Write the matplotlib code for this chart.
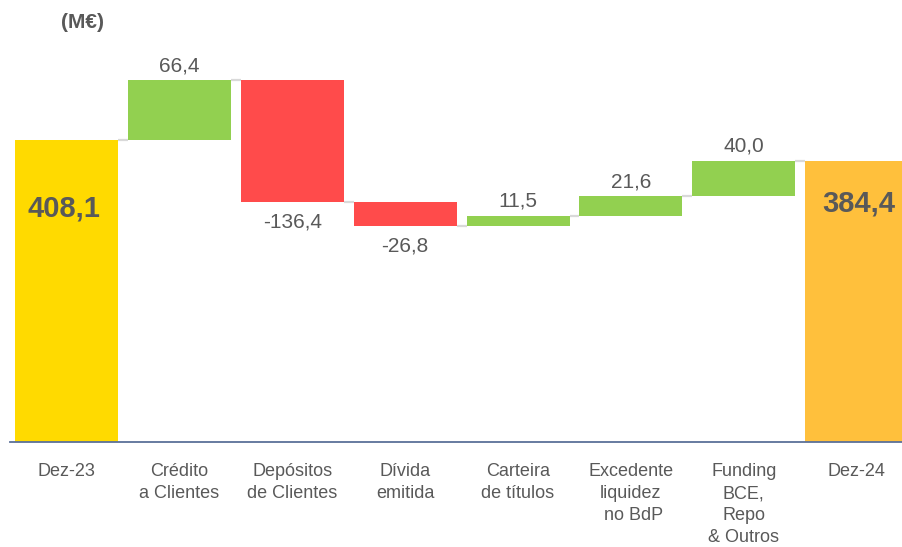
import matplotlib
matplotlib.use('Agg')
import matplotlib.pyplot as plt
import numpy as np

plt.rcParams['font.family'] = ['Liberation Sans', 'DejaVu Sans']

# data
categories = ['Dez-23', 'Crédito\na Clientes', 'Depósitos\nde Clientes', 'Dívida\nemitida',
              'Carteira\nde títulos', 'Excedente\nliquidez\n no BdP', 'Funding\nBCE,\nRepo\n& Outros',
              'Dez-24']
start_total = 408.1
changes = [66.4, -136.4, -26.8, 11.5, 21.6, 40.0]
end_total = 384.4
value_labels = ['408,1', '66,4', '-136,4', '-26,8', '11,5', '21,6', '40,0', '384,4']

# colours
c_start = '#FFDA00'
c_end = '#FFC03C'
c_up = '#92D050'
c_down = '#FF4B4B'
c_text = '#595959'
c_conn = '#D9D9D9'

W, H = 903, 547
fig = plt.figure(figsize=(W / 100, H / 100), dpi=100)
base_px = 441.5
ax = fig.add_axes([10 / W, (H - base_px) / H, (W - 10) / W, base_px / H])

ymin = 70
px_per_unit = 0.893
ax.set_ylim(ymin, ymin + base_px / px_per_unit)
ax.set_xlim(-0.5, 7.41)

bw = 0.912
x = np.arange(len(categories))

# running levels
levels = [start_total]
for c in changes:
    levels.append(levels[-1] + c)

bottoms = [ymin]
heights = [start_total - ymin]
colors = [c_start]
for i, c in enumerate(changes):
    lo = min(levels[i], levels[i + 1])
    bottoms.append(lo)
    heights.append(abs(c))
    colors.append(c_up if c > 0 else c_down)
bottoms.append(ymin)
heights.append(end_total - ymin)
colors.append(c_end)

ax.bar(x, heights, bottom=bottoms, width=bw, color=colors, zorder=2)

# connectors between bars
conn_levels = levels + [end_total]
for i in range(len(categories) - 1):
    ax.plot([x[i] + bw / 2, x[i + 1] - bw / 2], [conn_levels[i], conn_levels[i]],
            color=c_conn, lw=1.6, zorder=1, solid_capstyle='butt')

# value labels for changes
for i, c in enumerate(changes):
    xi = x[i + 1]
    if c > 0:
        ax.annotate(value_labels[i + 1], (xi, levels[i + 1]), xytext=(0, 9),
                    textcoords='offset pixels', ha='center', va='baseline',
                    fontsize=15, color=c_text)
    else:
        ax.annotate(value_labels[i + 1], (xi, levels[i + 1]), xytext=(0, -10),
                    textcoords='offset pixels', ha='center', va='top',
                    fontsize=15, color=c_text)

# totals
ax.annotate(value_labels[0], (x[0], start_total), xytext=(-3, -77),
            textcoords='offset pixels', ha='center', va='baseline',
            fontsize=21, fontweight='bold', color=c_text)
ax.annotate(value_labels[-1], (x[-1], end_total), xytext=(2, -51),
            textcoords='offset pixels', ha='center', va='baseline',
            fontsize=21, fontweight='bold', color=c_text)

# category labels
for xi, lab in zip(x, categories):
    ax.annotate(lab, (xi, 0), xycoords=('data', 'axes fraction'), xytext=(0, -22),
                textcoords='offset pixels', ha='center', va='top',
                fontsize=13, color=c_text, linespacing=1.37)

for s in ['top', 'right', 'left']:
    ax.spines[s].set_visible(False)
ax.spines['bottom'].set_color('#5B7199')
ax.spines['bottom'].set_linewidth(1.3)
ax.spines['bottom'].set_zorder(3)
ax.set_xticks([])
ax.set_yticks([])
ax.patch.set_visible(False)

fig.text(83 / W, 1 - 23 / H, '(M€)', ha='center', va='center',
         fontsize=15, fontweight='bold', color=c_text)

fig.savefig('out.png', dpi=100)
